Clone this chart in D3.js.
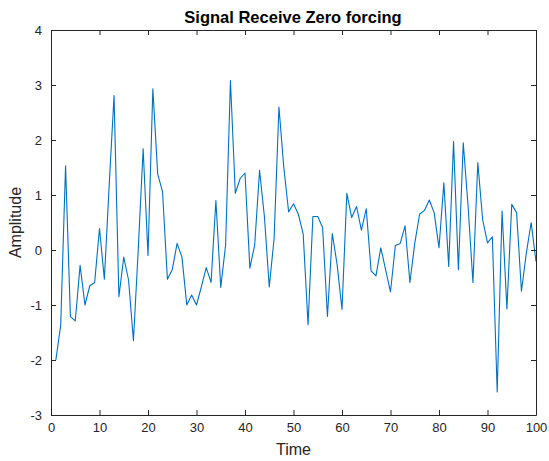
<html>
<meta charset="utf-8">
<script src="https://cdn.jsdelivr.net/npm/d3@7"></script>
<style>
body { margin: 0; background: #fff; }
text { font-family: "Liberation Sans", Arial, sans-serif; fill: #262626; }
</style>
<body>
</body>
<script>

// signal samples, t = 1..100
var times = d3.range(1, 101);
var amplitude = [
  -2.0, -1.37, 1.53, -1.21, -1.29, -0.28, -1.0, -0.65, -0.59, 0.39,
  -0.53, 1.18, 2.81, -0.85, -0.13, -0.55, -1.65, 0.03, 1.84, -0.10,
  2.93, 1.38, 1.06, -0.53, -0.36, 0.12, -0.13, -1.0, -0.82, -1.0,
  -0.67, -0.32, -0.59, 0.9, -0.68, 0.09, 3.08, 1.03, 1.3, 1.4,
  -0.33, 0.09, 1.45, 0.61, -0.67, 0.21, 2.6, 1.5, 0.69, 0.84,
  0.65, 0.29, -1.36, 0.61, 0.61, 0.41, -1.21, 0.30, -0.27, -1.08,
  1.03, 0.59, 0.79, 0.36, 0.75, -0.38, -0.47, 0.04, -0.36, -0.76,
  0.08, 0.12, 0.44, -0.59, 0.12, 0.65, 0.72, 0.91, 0.68, 0.04,
  1.22, -0.30, 1.97, -0.36, 1.95, 0.79, -0.59, 1.59, 0.55, 0.13,
  0.24, -2.58, 0.71, -1.07, 0.83, 0.68, -0.75, -0.06, 0.5, -0.21
];
var xTicks = [0, 10, 20, 30, 40, 50, 60, 70, 80, 90, 100];
var yTicks = [-3, -2, -1, 0, 1, 2, 3, 4];

drawChart();

function drawChart() {
  var W = 549, H = 461;
  var pl = 51, pr = 536, pt = 30, pb = 415;

  var svg = d3.select("body").append("svg")
    .attr("width", W)
    .attr("height", H);

  var x = d3.scaleLinear().domain([0, 100]).range([pl, pr]);
  var y = d3.scaleLinear().domain([-3, 4]).range([pb, pt]);

  // plain hyphen minus like matlab
  var fmt = function(d) { return d < 0 ? "-" + Math.abs(d) : String(d); };

  var line = d3.line()
    .x(function(d, i) { return x(times[i]); })
    .y(function(d) { return y(d); });

  svg.append("path")
    .datum(amplitude)
    .attr("d", line)
    .attr("fill", "none")
    .attr("stroke", "#0072BD")
    .attr("stroke-width", 1.1)
    .attr("stroke-linejoin", "round");

  // axes, ticks inward on all four sides (matlab box)
  function styleAxis(g) {
    g.select(".domain").attr("stroke", "#262626");
    g.selectAll(".tick line").attr("stroke", "#262626");
    g.selectAll(".tick text").attr("font-size", "13px").attr("fill", "#404040")
      .attr("font-family", "Liberation Sans, Arial, sans-serif");
  }

  svg.append("g")
    .attr("transform", "translate(0," + pb + ")")
    .call(d3.axisBottom(x).tickValues(xTicks).tickFormat(fmt).tickSizeInner(-5).tickSizeOuter(0).tickPadding(8))
    .call(styleAxis);

  svg.append("g")
    .attr("transform", "translate(0," + pt + ")")
    .call(d3.axisTop(x).tickValues(xTicks).tickSizeInner(-5).tickSizeOuter(0).tickFormat(""))
    .call(styleAxis);

  svg.append("g")
    .attr("transform", "translate(" + pl + ",0)")
    .call(d3.axisLeft(y).tickValues(yTicks).tickFormat(fmt).tickSizeInner(-5).tickSizeOuter(0).tickPadding(9))
    .call(styleAxis);

  svg.append("g")
    .attr("transform", "translate(" + pr + ",0)")
    .call(d3.axisRight(y).tickValues(yTicks).tickSizeInner(-5).tickSizeOuter(0).tickFormat(""))
    .call(styleAxis);

  svg.append("text")
    .attr("x", 293)
    .attr("y", 23)
    .attr("text-anchor", "middle")
    .attr("font-size", "16.5px")
    .attr("font-weight", "bold")
    .style("fill", "#000")
    .text("Signal Receive Zero forcing");

  svg.append("text")
    .attr("x", (pl + pr) / 2)
    .attr("y", 455)
    .attr("text-anchor", "middle")
    .attr("font-size", "16px")
    .text("Time");

  svg.append("text")
    .attr("transform", "translate(20.5," + ((pt + pb) / 2) + ") rotate(-90)")
    .attr("text-anchor", "middle")
    .attr("font-size", "16px")
    .text("Amplitude");
}

</script>
</html>
